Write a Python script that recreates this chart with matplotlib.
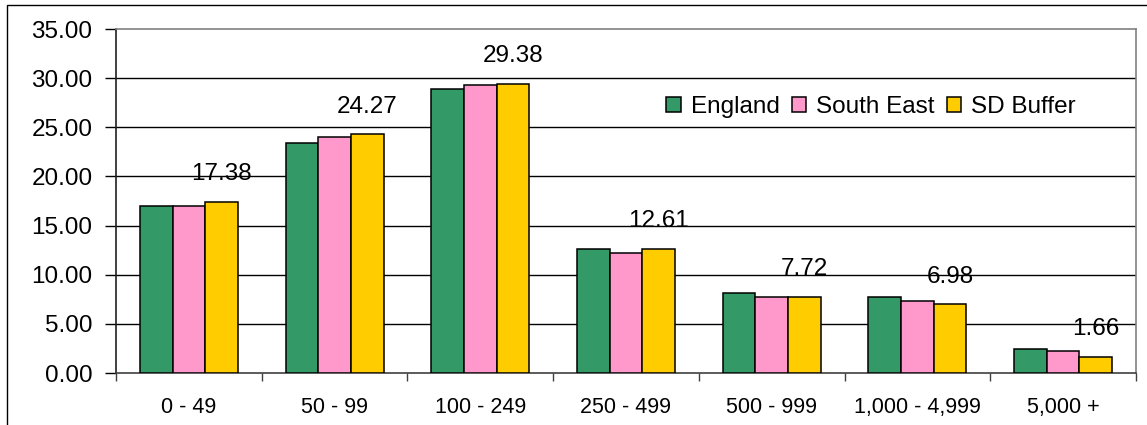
import matplotlib
matplotlib.use("Agg")
import matplotlib.pyplot as plt
import numpy as np
from matplotlib.patches import Rectangle
from matplotlib.ticker import FormatStrFormatter, FixedLocator

plt.rcParams['font.family'] = ['Liberation Sans', 'DejaVu Sans']

categories = ["0 - 49", "50 - 99", "100 - 249", "250 - 499", "500 - 999", "1,000 - 4,999", "5,000 +"]
england = [17.02, 23.36, 28.86, 12.58, 8.17, 7.75, 2.47]
south_east = [17.00, 23.97, 29.27, 12.17, 7.70, 7.33, 2.27]
sd_buffer = [17.38, 24.27, 29.38, 12.61, 7.72, 6.98, 1.66]

series_names = ["England", "South East", "SD Buffer"]
colors = ["#339966", "#FF99CC", "#FFCC00"]

W, H = 1147, 425
fig = plt.figure(figsize=(W / 100, H / 100), dpi=100)
fig.patch.set_facecolor("white")

# chart-area border
fig.patches.append(Rectangle((7 / W, -0.1), 1.2, 1 - 5 / H + 0.1,
                             transform=fig.transFigure, fill=False,
                             edgecolor="black", linewidth=1.0))

left, right, top, bottom = 116, 1136, 29, 373
ax = fig.add_axes([left / W, 1 - bottom / H, (right - left) / W, (bottom - top) / H])

x = np.arange(len(categories))
bw = 0.224
for j, (vals, col, name) in enumerate(zip([england, south_east, sd_buffer], colors, series_names)):
    ax.bar(x + (j - 1) * bw, vals, width=bw, color=col, edgecolor="black",
           linewidth=1.1, label=name, zorder=3)

# value labels above the SD Buffer bars
for xi, v in zip(x, sd_buffer):
    ax.annotate(f"{v:.2f}", (xi + bw, v), xytext=(0, 20), textcoords="offset points",
                ha="center", va="center", fontsize=17.5, color="black")

ax.set_xlim(-0.5, len(categories) - 0.5)
ax.set_ylim(0, 35)
ax.set_yticks(np.arange(0, 35.01, 5))
ax.yaxis.set_major_formatter(FormatStrFormatter("%.2f"))
for yv in np.arange(5, 31, 5):
    ax.axhline(yv, color="black", linewidth=1.0, zorder=1)

ax.xaxis.set_major_locator(FixedLocator(np.arange(-0.5, len(categories), 1.0)))
ax.xaxis.set_minor_locator(FixedLocator(x))
ax.set_xticklabels([""] * len(categories + [""]), minor=False)
ax.set_xticklabels(categories, minor=True)
ax.tick_params(axis="x", which="major", direction="out", length=6, width=1, color="#404040")
ax.tick_params(axis="x", which="minor", length=0, pad=17, labelsize=15.5)
ax.tick_params(axis="y", direction="out", length=8, width=1, color="black", pad=9, labelsize=17.5)

ax.spines["top"].set_color("#808080")
ax.spines["right"].set_color("#808080")
ax.spines["left"].set_color("#202020")
ax.spines["bottom"].set_color("#404040")
for s in ax.spines.values():
    s.set_linewidth(1.2)

ax.legend(loc="center", bbox_to_anchor=(871 / W, 1 - 107 / H), bbox_transform=fig.transFigure,
          ncol=3, frameon=False, fontsize=17.5, handlelength=0.6, handleheight=0.6,
          handletextpad=0.4, columnspacing=0.5, borderpad=0)

fig.savefig("out.png", dpi=100)
